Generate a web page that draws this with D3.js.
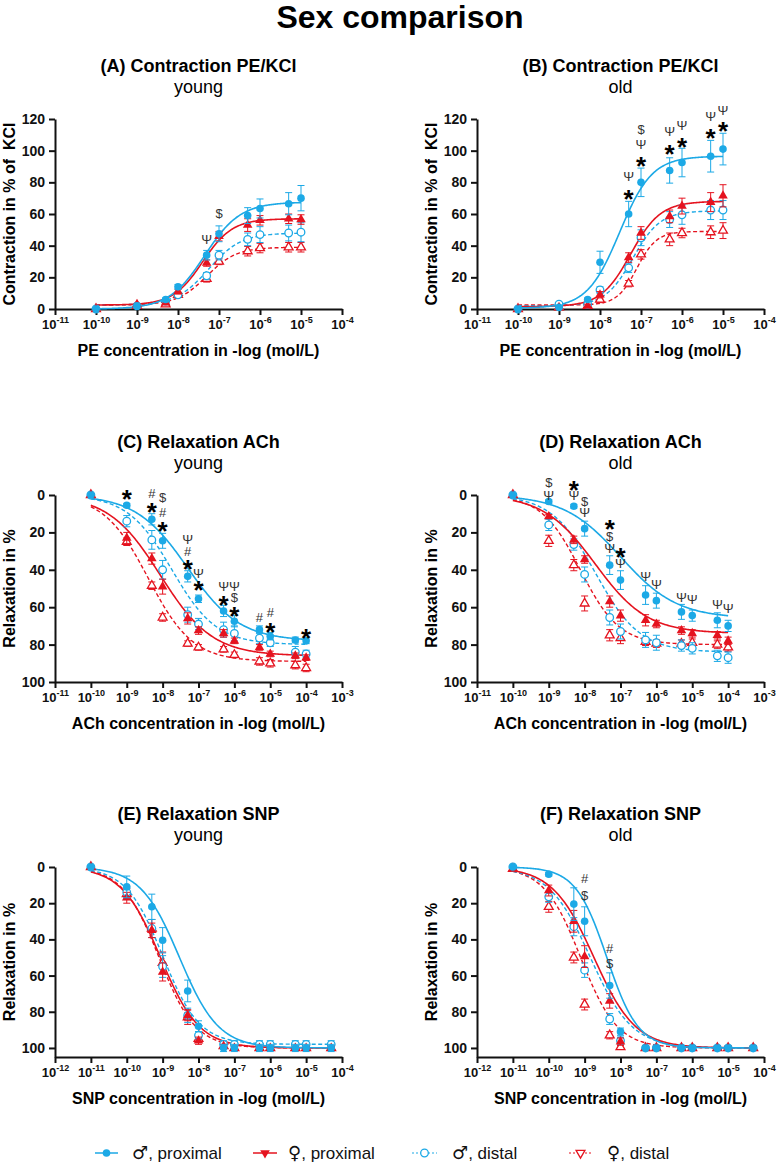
<!DOCTYPE html>
<html>
<head>
<meta charset="utf-8">
<script src="https://cdn.jsdelivr.net/npm/d3@7"></script>
<style>
  body { margin: 0; background: #fff; }
  svg { font-family: "Liberation Sans", Arial, sans-serif; }
  .keep { white-space: pre; }
</style>
</head>
<body>
<svg id="chart" width="777" height="1166"></svg>
<script>
'use strict';
// series order in every array: male proximal, female proximal, male distal, female distal
const seriesSex = ['\u2642', '\u2640', '\u2642', '\u2640'];
const seriesNames = [', proximal', ', proximal', ', distal', ', distal'];

// concentrations (mol/L)
const concPE = [1e-10, 1e-9, 5e-9, 1e-8, 5e-8, 1e-7, 5e-7, 1e-6, 5e-6, 1e-5];
const concACh = [1e-10, 1e-9, 5e-9, 1e-8, 5e-8, 1e-7, 5e-7, 1e-6, 5e-6, 1e-5, 5e-5, 1e-4];
const concSNP = [1e-11, 1e-10, 5e-10, 1e-9, 5e-9, 1e-8, 5e-8, 1e-7, 5e-7, 1e-6, 5e-6, 1e-5, 5e-5];

// (A) PE young
const peYoungMean = [
  [0, 2, 6, 14, 34, 47.5, 59, 63.5, 66.5, 70],
  [0, 3, 4, 11, 29, 46, 53, 56, 57, 56.5],
  [0, 2, 5, 9, 21, 34, 44, 47, 48, 48.5],
  [0, 2, 3, 9, 19, 30, 36.5, 38.5, 39, 39]
];
const peYoungSem = [
  [0, 0.5, 1, 1.5, 3, 5, 5, 6, 7, 8],
  [0, 0.5, 1, 1.5, 2, 3, 4, 3, 3, 3],
  [0, 0.5, 1, 1, 2, 3, 4, 5, 5, 6],
  [0, 0.5, 0.5, 1, 2, 2, 3, 3, 3, 3]
];
// fit: [bottom, top, logEC50, hill]
const peYoungFit = [[0, 67.5, -7.35, 1.0], [2.5, 57, -7.4, 1.2], [2.5, 48, -7.25, 1.1], [2.5, 39, -7.3, 1.2]];
const peYoungMarks = [[5e-8, 44, '\u03A8'], [1e-7, 60.5, '$']];

// (B) PE old
const peOldMean = [
  [0, 1, 6, 29.5, 60, 80, 87.5, 92.5, 96.5, 101],
  [0, 1, 2, 9, 32.5, 48, 58.5, 65, 67.5, 71.5],
  [0, 3, 3, 12, 26, 45, 56.5, 59.5, 62.5, 62.5],
  [0, 1, 2, 6, 16, 34.5, 44, 48, 48.5, 49.5]
];
const peOldSem = [
  [0, 0.5, 1, 7, 8, 9, 8, 9, 10, 10],
  [0, 0.5, 1, 2, 3, 4, 4, 5, 6, 7],
  [0, 0.5, 1, 2, 3, 5, 5, 6, 6, 6],
  [0, 0.5, 1, 2, 2, 3, 4, 3, 4, 5]
];
const peOldFit = [[0.5, 96.5, -7.52, 1.1], [1.5, 68, -7.25, 1.2], [2, 62, -7.2, 1.3], [2.5, 49, -7.1, 1.8]];
const peOldMarks = [
  [5e-8, 84, '\u03A8'], [5e-8, 73, '*'],
  [1e-7, 113.5, '$'], [1e-7, 104, '\u03A8'], [1e-7, 94, '*'],
  [5e-7, 112, '\u03A8'], [5e-7, 101.5, '*'],
  [1e-6, 116, '\u03A8'], [1e-6, 106, '*'],
  [5e-6, 121.5, '\u03A8'], [5e-6, 112, '*'],
  [1e-5, 125.5, '\u03A8'], [1e-5, 116, '*']
];

// (C) ACh young
const achYoungMean = [
  [0, 5.5, 13, 24.5, 43.5, 55.5, 62, 67.5, 72, 75.5, 77.5, 78],
  [0, 23, 34, 49, 66, 72.5, 74, 78, 81.5, 85, 86, 87],
  [0, 14, 24, 40, 64, 69, 72, 74, 76.5, 79, 84, 85],
  [0, 25, 48.5, 65.5, 79.5, 81.5, 82.5, 85.5, 89, 90, 91, 92.5]
];
const achYoungSem = [
  [0, 1, 3, 4, 3, 2, 3, 3, 2, 2, 1.5, 1.5],
  [0, 3, 3, 4, 3, 2, 2, 1.5, 1.5, 1.5, 1.5, 1.5],
  [0, 3, 5, 5, 4, 3, 4, 4, 3, 2, 3, 2],
  [0, 2, 2, 2, 1.5, 1.5, 1.5, 1.5, 2, 2, 2, 2]
];
const achYoungFit = [[0, 78, -7.3, 0.6], [0, 86, -8.06, 0.6], [0, 80, -7.74, 0.7], [0, 89, -8.4, 0.7]];
const achYoungMarks = [
  [1e-9, -1, '*'],
  [5e-9, -1, '#'], [5e-9, 6, '*'],
  [1e-8, 1.2, '$'], [1e-8, 9, '#'], [1e-8, 16, '*'],
  [5e-8, 23.5, '\u03A8'], [5e-8, 30, '#'], [5e-8, 36.5, '*'],
  [1e-7, 42, '\u03A8'], [1e-7, 47.5, '*'],
  [5e-7, 49, '\u03A8'], [5e-7, 55.5, '*'],
  [1e-6, 49, '\u03A8'], [1e-6, 54.5, '$'], [1e-6, 61.5, '*'],
  [5e-6, 65.5, '#'],
  [1e-5, 63, '#'], [1e-5, 70, '*'],
  [1e-4, 73, '*']
];

// (D) ACh old
const achOldMean = [
  [0, 3.5, 6, 18, 37.5, 45.5, 53.5, 56.5, 62.5, 64.5, 67, 70],
  [0, 11.5, 24, 34.5, 57, 64.5, 67, 69, 72.5, 74, 75, 78],
  [0, 16, 26.5, 42.5, 65.5, 73, 77.5, 79, 80.5, 82, 86, 87],
  [0, 24.5, 37.5, 58, 75, 76.5, 78.5, 79.5, 79.5, 79, 80, 81.5]
];
const achOldSem = [
  [0, 1, 1, 4, 5, 5, 5, 4, 4, 3, 4, 3],
  [0, 1, 2, 2, 3, 3, 3, 2, 2, 2, 2, 2],
  [0, 3, 3, 4, 4, 4, 4, 4, 3, 3, 3, 3],
  [0, 3, 3, 4, 3, 3, 2, 2, 2, 2, 2, 2]
];
const achOldFit = [[0, 66, -7.0, 0.55], [0, 74, -7.7, 0.6], [0, 84, -7.69, 0.7], [0, 80, -8.12, 0.8]];
const achOldMarks = [
  [1e-9, -7, '$'], [1e-9, 0, '\u03A8'],
  [5e-9, -6, '*'], [5e-9, 0, '\u03A8'],
  [1e-8, 3.5, '$'], [1e-8, 9.5, '\u03A8'],
  [5e-8, 15, '*'], [5e-8, 22, '$'], [5e-8, 28.5, '\u03A8'],
  [1e-7, 30, '*'], [1e-7, 36.5, '\u03A8'],
  [5e-7, 43.5, '\u03A8'], [1e-6, 48, '\u03A8'],
  [5e-6, 54.5, '\u03A8'], [1e-5, 56, '\u03A8'],
  [5e-5, 58.5, '\u03A8'], [1e-4, 60.5, '\u03A8']
];

// (E) SNP young
const snpYoungMean = [
  [0, 11, 22, 40.5, 68.5, 88, 100, 100, 100, 100, 100, 100, 100],
  [0, 17, 35, 58, 82, 96, 99, 100, 100, 100, 100, 100, 100],
  [0, 14, 34, 55, 82, 93, 98, 98, 98, 98, 98, 98, 98],
  [0, 15, 34, 53, 83, 95, 99, 100, 100, 100, 100, 100, 100]
];
const snpYoungSem = [
  [0, 6, 7, 7, 6, 3, 2, 2, 2, 2, 2, 2, 2],
  [0, 3, 4, 5, 3, 2, 1, 1, 1, 1, 1, 1, 1],
  [0, 3, 5, 6, 4, 2, 2, 2, 2, 2, 2, 2, 2],
  [0, 3, 5, 6, 4, 2, 1, 1, 1, 1, 1, 1, 1]
];
const snpYoungFit = [[0, 100, -8.53, 0.8], [0, 100, -9.06, 0.8], [0, 98, -9.0, 0.85], [0, 100, -9.1, 0.85]];
const snpYoungMarks = [];

// (F) SNP old
const snpOldMean = [
  [0, 4, 20.5, 30, 65.5, 91, 100, 100, 100, 100, 100, 100, 100],
  [1, 13, 30, 49.5, 74, 96.5, 100, 100, 100, 100, 100, 100, 100],
  [0, 16.5, 33, 57, 84, 96, 100, 100, 100, 100, 100, 100, 100],
  [1, 22, 50, 76, 93, 99.5, 100, 100, 100, 100, 100, 100, 100]
];
const snpOldSem = [
  [0, 1, 9, 8, 7, 2, 1, 1, 1, 1, 1, 1, 1],
  [0, 3, 6, 6, 4, 2, 1, 1, 1, 1, 1, 1, 1],
  [0, 3, 5, 4, 3, 2, 1, 1, 1, 1, 1, 1, 1],
  [0, 3, 3, 3, 2, 1, 1, 1, 1, 1, 1, 1, 1]
];
const snpOldFit = [[0, 100, -8.38, 1.0], [0, 100, -8.74, 0.75], [0, 100, -8.84, 0.75], [0, 100, -9.11, 0.85]];
const snpOldMarks = [[1e-9, 6.5, '#'], [1e-9, 15.5, '$'], [5e-9, 45, '#'], [5e-9, 53.5, '$']];

const BLUE = '#1ca9e6';
const RED = '#e5131f';
const seriesStyle = [
  {color: BLUE, shape: 'circle', open: false, dash: null},
  {color: RED, shape: 'triangle', open: false, dash: null},
  {color: BLUE, shape: 'circle', open: true, dash: '4,2.5'},
  {color: RED, shape: 'triangle', open: true, dash: '4,2.5'}
];

const svg = d3.select('#chart');

svg.append('text')
  .attr('x', 400).attr('y', 28)
  .attr('text-anchor', 'middle')
  .attr('font-size', 32).attr('font-weight', 'bold')
  .text('Sex comparison');

const cols = [{left: 55, right: 342}, {left: 477, right: 764}];
const rows = [
  {top: 119, bottom: 309, yMax: 120, inverted: false, xDomain: [1e-11, 1e-4], fitRange: [1e-10, 1e-5],
   xLabel: 'PE concentration in -log (mol/L)', yLabel: 'Contraction in % of  KCl'},
  {top: 495, bottom: 682, yMax: 100, inverted: true, xDomain: [1e-11, 1e-3], fitRange: [1e-10, 1e-4],
   xLabel: 'ACh concentration in -log (mol/L)', yLabel: 'Relaxation in %'},
  {top: 867, bottom: 1057, yMax: 105, inverted: true, xDomain: [1e-12, 1e-4], fitRange: [1e-11, 5e-5],
   xLabel: 'SNP concentration in -log (mol/L)', yLabel: 'Relaxation in %'}
];

const panels = [
  {row: 0, col: 0, title: '(A) Contraction PE/KCl', sub: 'young', conc: concPE, mean: peYoungMean, sem: peYoungSem, fit: peYoungFit, marks: peYoungMarks},
  {row: 0, col: 1, title: '(B) Contraction PE/KCl', sub: 'old', conc: concPE, mean: peOldMean, sem: peOldSem, fit: peOldFit, marks: peOldMarks},
  {row: 1, col: 0, title: '(C) Relaxation ACh', sub: 'young', conc: concACh, mean: achYoungMean, sem: achYoungSem, fit: achYoungFit, marks: achYoungMarks},
  {row: 1, col: 1, title: '(D) Relaxation ACh', sub: 'old', conc: concACh, mean: achOldMean, sem: achOldSem, fit: achOldFit, marks: achOldMarks},
  {row: 2, col: 0, title: '(E) Relaxation SNP', sub: 'young', conc: concSNP, mean: snpYoungMean, sem: snpYoungSem, fit: snpYoungFit, marks: snpYoungMarks},
  {row: 2, col: 1, title: '(F) Relaxation SNP', sub: 'old', conc: concSNP, mean: snpOldMean, sem: snpOldSem, fit: snpOldFit, marks: snpOldMarks}
];

function drawMarker(sel, style, cx, cy, flip) {
  if (style.shape === 'circle') {
    sel.append('circle')
      .attr('cx', cx).attr('cy', cy).attr('r', 3.8)
      .attr('fill', style.open ? '#fff' : style.color)
      .attr('stroke', style.color).attr('stroke-width', style.open ? 1.3 : 0);
  } else {
    sel.append('path')
      .attr('d', d3.symbol().type(d3.symbolTriangle).size(style.open ? 34 : 40)())
      .attr('transform', `translate(${cx},${cy})${flip ? ' rotate(180)' : ''}`)
      .attr('fill', style.open ? '#fff' : style.color)
      .attr('stroke', style.color).attr('stroke-width', style.open ? 1.3 : 0);
  }
}

// 4-parameter logistic from the fit values
function logistic(p, logx) {
  return p[0] + (p[1] - p[0]) / (1 + Math.pow(10, (p[2] - logx) * p[3]));
}

panels.forEach(function(pn) {
  const r = rows[pn.row];
  const c = cols[pn.col];
  const g = svg.append('g');

  const x = d3.scaleLog().domain(r.xDomain).range([c.left, c.right]);
  const y = d3.scaleLinear().domain([0, r.yMax])
    .range(r.inverted ? [r.top, r.bottom] : [r.bottom, r.top]);
  const axisY = r.bottom;

  // titles
  const cx = (c.left + c.right) / 2;
  g.append('text').attr('x', cx).attr('y', r.top - 47)
    .attr('text-anchor', 'middle').attr('font-size', 18).attr('font-weight', 'bold')
    .text(pn.title);
  g.append('text').attr('x', cx).attr('y', r.top - 26)
    .attr('text-anchor', 'middle').attr('font-size', 18)
    .text(pn.sub);

  // axes
  const lo = Math.round(Math.log10(r.xDomain[0]));
  const hi = Math.round(Math.log10(r.xDomain[1]));
  const decades = d3.range(lo, hi + 1).map(e => Math.pow(10, e));
  const xAxis = g.append('g')
    .attr('transform', `translate(0,${axisY})`)
    .call(d3.axisBottom(x).tickValues(decades).tickSize(6).tickSizeOuter(0).tickPadding(5));
  xAxis.selectAll('text').each(function(d) {
    const t = d3.select(this);
    t.text(null);
    t.append('tspan').text('10');
    t.append('tspan').attr('dy', -6).attr('font-size', 9).text(Math.round(Math.log10(d)));
  });
  xAxis.selectAll('text').attr('font-size', 13).attr('font-weight', 'bold')
    .attr('font-family', '"Liberation Sans", Arial, sans-serif').attr('fill', '#111');

  const yTicks = d3.range(0, Math.min(r.yMax, 120) + 1, 20);
  const yAxis = g.append('g')
    .attr('transform', `translate(${c.left},0)`)
    .call(d3.axisLeft(y).tickValues(yTicks).tickSize(6).tickSizeOuter(0).tickPadding(4));
  yAxis.selectAll('text').attr('font-size', 14).attr('font-weight', 'bold')
    .attr('font-family', '"Liberation Sans", Arial, sans-serif').attr('fill', '#111');

  [xAxis, yAxis].forEach(a => {
    a.select('.domain').attr('stroke', '#111').attr('stroke-width', 2);
    a.selectAll('.tick line').attr('stroke', '#111').attr('stroke-width', 2);
  });

  // axis titles
  g.append('text').attr('x', cx).attr('y', axisY + 47)
    .attr('text-anchor', 'middle').attr('font-size', 16).attr('font-weight', 'bold')
    .text(r.xLabel);
  g.append('text').attr('class', 'keep')
    .attr('transform', `translate(${c.left - 40},${(r.top + r.bottom) / 2}) rotate(-90)`)
    .attr('text-anchor', 'middle').attr('font-size', 16).attr('font-weight', 'bold')
    .text(r.yLabel);

  // fitted curves
  const logs = d3.range(0, 201).map(i => Math.log10(r.fitRange[0]) +
    i / 200 * (Math.log10(r.fitRange[1]) - Math.log10(r.fitRange[0])));
  const line = d3.line().x(d => x(Math.pow(10, d[0]))).y(d => y(d[1]));
  [3, 2, 1, 0].forEach(function(s) {
    const st = seriesStyle[s];
    g.append('path')
      .datum(logs.map(l => [l, logistic(pn.fit[s], l)]))
      .attr('d', line)
      .attr('fill', 'none').attr('stroke', st.color)
      .attr('stroke-width', st.dash ? 1.4 : 1.6)
      .attr('stroke-dasharray', st.dash);
  });

  // error bars and points
  [3, 2, 1, 0].forEach(function(s) {
    const st = seriesStyle[s];
    const eg = g.append('g').attr('stroke', st.color).attr('stroke-width', 1);
    pn.conc.forEach(function(cv, i) {
      const m = pn.mean[s][i], e = pn.sem[s][i];
      if (!e) return;
      const px = x(cv);
      eg.append('line').attr('x1', px).attr('x2', px).attr('y1', y(m - e)).attr('y2', y(m + e));
      eg.append('line').attr('x1', px - 3.5).attr('x2', px + 3.5).attr('y1', y(m - e)).attr('y2', y(m - e));
      eg.append('line').attr('x1', px - 3.5).attr('x2', px + 3.5).attr('y1', y(m + e)).attr('y2', y(m + e));
    });
    const mg = g.append('g');
    pn.conc.forEach(function(cv, i) {
      drawMarker(mg, st, x(cv), y(pn.mean[s][i]), false);
    });
  });

  // significance symbols
  pn.marks.forEach(function(mk) {
    const star = mk[2] === '*';
    const fs = star ? 26 : 13;
    g.append('text')
      .attr('x', x(mk[0])).attr('y', y(mk[1]) + (star ? 0.58 : 0.36) * fs)
      .attr('text-anchor', 'middle')
      .attr('font-size', fs).attr('font-weight', star ? 'bold' : 'normal')
      .attr('fill', star ? '#000' : '#333')
      .text(mk[2]);
  });
});

// legend
const legendX = [[95, 118, 132], [253, 277, 288], [412, 437, 452], [569, 592, 607]];
const legendY = 1153;
const lg = svg.append('g');
seriesNames.forEach(function(name, s) {
  const st = seriesStyle[s];
  const lx = legendX[s];
  lg.append('line')
    .attr('x1', lx[0]).attr('x2', lx[1]).attr('y1', legendY).attr('y2', legendY)
    .attr('stroke', st.color).attr('stroke-width', st.dash ? 1.2 : 1.5)
    .attr('stroke-dasharray', st.dash ? '2,2' : null);
  drawMarker(lg, st, (lx[0] + lx[1]) / 2, legendY, true);
  const t = lg.append('text')
    .attr('x', lx[2]).attr('y', legendY + 6)
    .attr('font-size', 17).attr('fill', '#111');
  t.append('tspan').attr('font-family', '"DejaVu Sans"').attr('font-size', 18).text(seriesSex[s]);
  t.append('tspan').text(name);
});
</script>
</body>
</html>
